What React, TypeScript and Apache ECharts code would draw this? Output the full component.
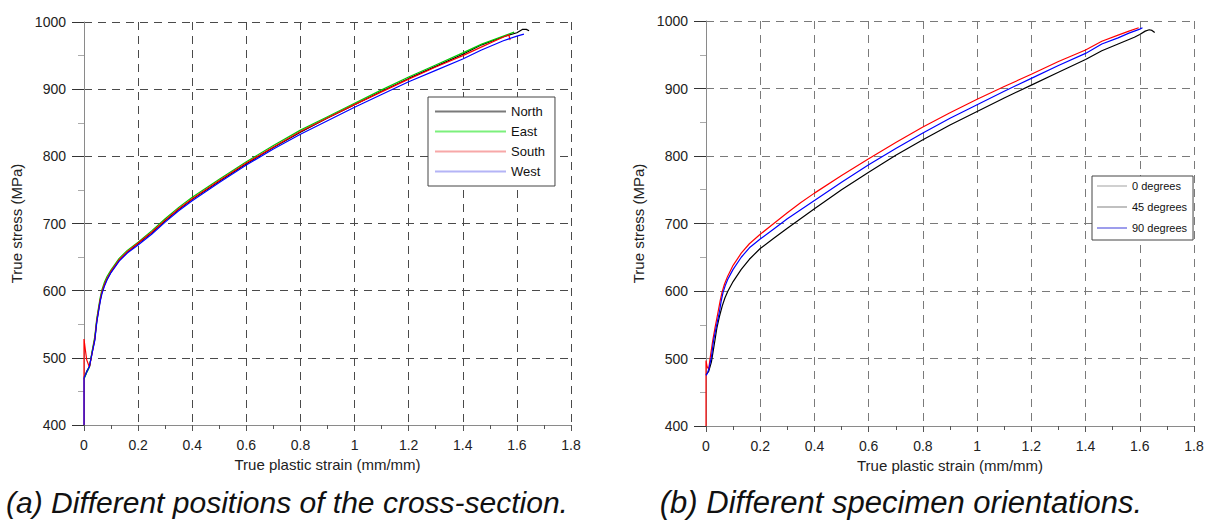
import React, { useEffect, useRef } from "react";
import * as echarts from "echarts";

// Flow curves: [true plastic strain (mm/mm), true stress (MPa)]
const northData: number[][] = [
  [0, 471], [0.005, 474], [0.01, 480], [0.02, 487], [0.03, 508], [0.04, 528], [0.047, 554],
  [0.055, 574], [0.06, 586], [0.066, 597], [0.075, 608], [0.085, 617], [0.1, 628], [0.13, 645],
  [0.16, 657], [0.2, 670], [0.25, 686], [0.3, 704], [0.35, 721], [0.4, 736], [0.5, 763],
  [0.6, 789], [0.7, 813], [0.8, 836], [0.9, 857], [1.0, 877], [1.1, 897], [1.2, 916],
  [1.3, 934], [1.4, 952], [1.47, 966], [1.55, 978], [1.6, 984], [1.62, 989], [1.635, 989],
  [1.645, 987],
];
const eastData: number[][] = [
  [0, 468], [0.01, 478], [0.02, 486], [0.03, 510], [0.04, 532], [0.047, 558], [0.055, 578],
  [0.06, 590], [0.066, 601], [0.075, 612], [0.085, 621], [0.1, 631], [0.13, 648], [0.16, 660],
  [0.2, 672], [0.25, 689], [0.3, 707], [0.35, 724], [0.4, 739], [0.5, 766], [0.6, 792],
  [0.7, 816], [0.8, 839], [0.9, 859], [1.0, 879], [1.1, 899], [1.2, 918], [1.3, 936],
  [1.4, 954], [1.47, 967], [1.55, 979], [1.59, 985],
];
const southData: number[][] = [
  [0, 400], [0, 528], [0.005, 512], [0.01, 497], [0.02, 486], [0.03, 507], [0.04, 529],
  [0.047, 555], [0.055, 575], [0.06, 587], [0.066, 598], [0.075, 609], [0.085, 618],
  [0.1, 629], [0.13, 646], [0.16, 658], [0.2, 671], [0.25, 687], [0.3, 705], [0.35, 722],
  [0.4, 737], [0.5, 764], [0.6, 790], [0.7, 814], [0.8, 837], [0.9, 857], [1.0, 877],
  [1.1, 896], [1.2, 915], [1.3, 933], [1.4, 950], [1.47, 963], [1.53, 974], [1.57, 981],
  [1.575, 973],
];
const westData: number[][] = [
  [0, 400], [0, 470], [0.01, 479], [0.02, 487], [0.03, 507], [0.04, 526], [0.047, 552],
  [0.055, 572], [0.06, 584], [0.066, 595], [0.075, 606], [0.085, 616], [0.1, 627],
  [0.13, 644], [0.16, 656], [0.2, 668], [0.25, 684], [0.3, 702], [0.35, 719], [0.4, 734],
  [0.5, 761], [0.6, 787], [0.7, 811], [0.8, 833], [0.9, 853], [1.0, 873], [1.1, 892],
  [1.2, 911], [1.3, 928], [1.4, 945], [1.467, 958], [1.55, 972], [1.6, 979], [1.626, 982],
];

const deg0Data: number[][] = [
  [0, 476], [0.01, 481], [0.02, 495], [0.033, 527], [0.04, 545], [0.05, 563], [0.06, 578],
  [0.07, 590], [0.081, 600], [0.1, 614], [0.13, 632], [0.16, 647], [0.2, 663], [0.25, 678],
  [0.3, 693], [0.4, 722], [0.5, 750], [0.6, 776], [0.7, 801], [0.8, 824], [0.9, 846],
  [1.0, 866], [1.1, 886], [1.2, 905], [1.3, 924], [1.4, 943], [1.46, 956], [1.52, 966],
  [1.58, 976], [1.6, 980], [1.62, 985], [1.635, 987], [1.645, 986], [1.655, 983],
];
const deg45Data: number[][] = [
  [0, 400], [0, 497], [0.004, 488], [0.01, 484], [0.015, 500], [0.025, 527], [0.033, 545],
  [0.045, 570], [0.052, 585], [0.059, 598], [0.068, 610], [0.08, 622], [0.1, 638],
  [0.13, 656], [0.16, 670], [0.2, 684], [0.25, 700], [0.3, 716], [0.35, 731], [0.4, 745],
  [0.5, 771], [0.6, 796], [0.7, 820], [0.8, 843], [0.9, 864], [1.0, 884], [1.1, 903],
  [1.2, 921], [1.3, 940], [1.4, 957], [1.46, 970], [1.52, 979], [1.56, 985], [1.596, 990],
];
const deg90Data: number[][] = [
  [0, 475], [0.005, 478], [0.01, 484], [0.02, 502], [0.028, 527], [0.037, 545], [0.05, 570],
  [0.056, 585], [0.063, 598], [0.071, 608], [0.08, 617], [0.1, 632], [0.13, 650], [0.16, 664],
  [0.2, 677], [0.25, 692], [0.3, 707], [0.4, 734], [0.5, 761], [0.6, 787], [0.7, 811],
  [0.8, 834], [0.9, 856], [1.0, 876], [1.1, 896], [1.2, 915], [1.3, 934], [1.4, 952],
  [1.46, 966], [1.52, 975], [1.56, 982], [1.6, 988], [1.61, 990],
];

const strainRange = { min: 0, max: 1.8, interval: 0.2 };
const stressRange = { min: 400, max: 1000, interval: 100 };

const legendA = ["North", "East", "South", "West"];
const legendAColors = ["#7a7a7a", "#7cf07c", "#f7a8a8", "#b4b4f6"];
const legendB = ["0 degrees", "45 degrees", "90 degrees"];
const legendBColors = ["#a0a0a0", "#808080", "#3a3ad8"];

const captionA = "(a) Different positions of the cross-section.";
const captionB = "(b) Different specimen orientations.";

const FONT = '"Liberation Sans", Arial, Helvetica, sans-serif';

function makeXAxis(gridIndex: number, gridColor: string) {
  return {
    type: "value",
    gridIndex,
    ...strainRange,
    name: "True plastic strain (mm/mm)",
    nameLocation: "middle",
    nameGap: 32,
    nameTextStyle: { fontFamily: FONT, fontSize: 15, color: "#222" },
    axisLine: { show: true, lineStyle: { color: "#8a8a8a", width: 1 } },
    axisTick: { show: true, length: 6, lineStyle: { color: "#555" } },
    minorTick: { show: true, splitNumber: 2, length: 4, lineStyle: { color: "#555" } },
    axisLabel: {
      margin: 13,
      fontFamily: FONT,
      fontSize: 14,
      color: "#222",
      formatter: (v: number) => String(Math.round(v * 10) / 10),
    },
    splitLine: { show: true, lineStyle: { color: gridColor, type: [8, 6], width: 1 } },
  };
}

function makeYAxis(gridIndex: number, gridColor: string) {
  return {
    type: "value",
    gridIndex,
    ...stressRange,
    name: "True stress (MPa)",
    nameLocation: "middle",
    nameGap: 60,
    nameRotate: 90,
    nameTextStyle: { fontFamily: FONT, fontSize: 15, color: "#222" },
    axisLine: { show: true, lineStyle: { color: "#8a8a8a", width: 1 } },
    axisTick: { show: true, length: 12, lineStyle: { color: "#333" } },
    minorTick: { show: true, splitNumber: 2, length: 6, lineStyle: { color: "#aaa" } },
    axisLabel: {
      margin: 18,
      fontFamily: FONT,
      fontSize: 14,
      color: "#222",
      formatter: (v: number) => String(v),
    },
    splitLine: { show: true, lineStyle: { color: gridColor, type: [8, 6], width: 1 } },
  };
}

function lineSeries(name: string, data: number[][], color: string, axisIndex: number) {
  return {
    type: "line",
    name,
    data,
    xAxisIndex: axisIndex,
    yAxisIndex: axisIndex,
    showSymbol: false,
    symbol: "none",
    smooth: false,
    color,
    itemStyle: { color },
    lineStyle: { color, width: 1.2 },
    z: 3,
  };
}

export default function App() {
  const ref = useRef<HTMLDivElement>(null);

  useEffect(() => {
    if (!ref.current) return;
    const chart = echarts.init(ref.current, undefined, { renderer: "svg" });
    chart.setOption({
      animation: false,
      backgroundColor: "#ffffff",
      grid: [
        { left: 84, top: 22, width: 487, height: 403 },
        { left: 706, top: 21, width: 488, height: 405 },
      ],
      xAxis: [makeXAxis(0, "#4a4a4a"), makeXAxis(1, "#7a7a7a")],
      yAxis: [makeYAxis(0, "#4a4a4a"), makeYAxis(1, "#7a7a7a")],
      legend: [
        {
          left: 428,
          top: 97,
          orient: "vertical",
          icon: "rect",
          itemWidth: 71,
          itemHeight: 2,
          itemGap: 7,
          padding: [8, 10, 8, 7],
          borderColor: "#444",
          borderWidth: 1,
          borderRadius: 0,
          backgroundColor: "#ffffff",
          selectedMode: false,
          textStyle: { fontFamily: FONT, fontSize: 13, lineHeight: 13, color: "#111" },
          data: legendA.map((name, i) => ({ name, itemStyle: { color: legendAColors[i] } })),
        },
        {
          left: 1092,
          top: 176,
          orient: "vertical",
          icon: "rect",
          itemWidth: 30,
          itemHeight: 1,
          itemGap: 9,
          padding: [4, 6, 6, 5],
          borderColor: "#444",
          borderWidth: 1,
          borderRadius: 0,
          backgroundColor: "#ffffff",
          selectedMode: false,
          textStyle: { fontFamily: FONT, fontSize: 11, lineHeight: 12, color: "#111" },
          data: legendB.map((name, i) => ({ name, itemStyle: { color: legendBColors[i] } })),
        },
      ],
      series: [
        lineSeries("North", northData, "#000000", 0),
        lineSeries("East", eastData, "#00c800", 0),
        lineSeries("South", southData, "#ff0000", 0),
        lineSeries("West", westData, "#0000ff", 0),
        lineSeries("0 degrees", deg0Data, "#000000", 1),
        lineSeries("45 degrees", deg45Data, "#ff0000", 1),
        lineSeries("90 degrees", deg90Data, "#0000ff", 1),
      ],
      graphic: [
        {
          type: "text",
          x: 287,
          y: 502,
          style: {
            text: captionA,
            font: `italic 30px ${FONT}`,
            fill: "#111",
            align: "center",
            verticalAlign: "middle",
          },
        },
        {
          type: "text",
          x: 901,
          y: 502,
          style: {
            text: captionB,
            font: `italic 31px ${FONT}`,
            fill: "#111",
            align: "center",
            verticalAlign: "middle",
          },
        },
      ],
    });
    return () => chart.dispose();
  }, []);

  return (
    <div
      ref={ref}
      style={{ position: "fixed", left: 0, top: 0, width: 1211, height: 523 }}
    />
  );
}
